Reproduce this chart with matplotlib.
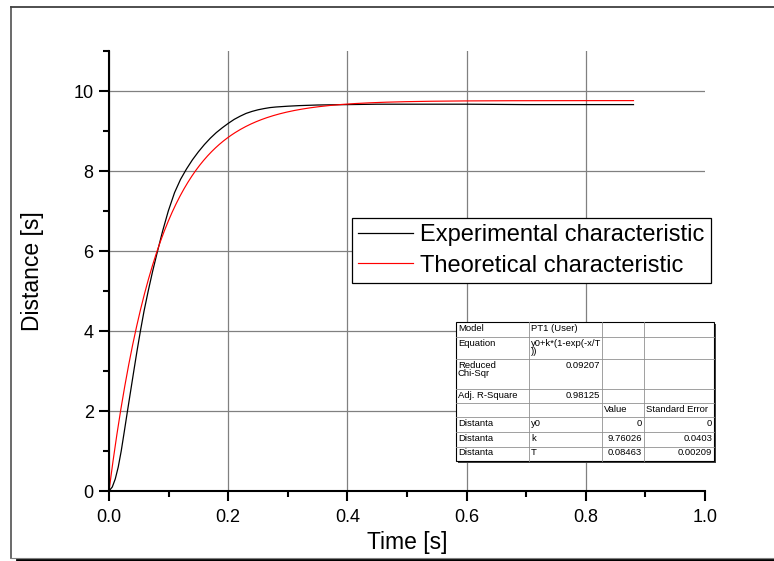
import numpy as np
import matplotlib
matplotlib.use("Agg")
import matplotlib.pyplot as plt
from matplotlib.ticker import MultipleLocator, FormatStrFormatter
from matplotlib.lines import Line2D
from matplotlib.patches import Rectangle

plt.rcParams['font.family'] = ['Liberation Sans', 'DejaVu Sans']

# measured step response
exp_time = [0.0, 0.0055, 0.0105, 0.0155, 0.0205, 0.0258, 0.031, 0.0363, 0.0416,
            0.047, 0.0527, 0.0588, 0.0658, 0.0733, 0.0815, 0.0900, 0.0995,
            0.11, 0.12, 0.13, 0.14, 0.15, 0.16, 0.17, 0.18, 0.19, 0.20,
            0.21, 0.22, 0.23, 0.24, 0.25, 0.26, 0.27, 0.28, 0.30, 0.32, 0.35,
            0.40, 0.45, 0.50, 0.60, 0.70, 0.80, 0.88]
exp_distance = [0.0, 0.1, 0.3, 0.6, 1.0, 1.5, 2.0, 2.5, 3.0,
                3.5, 4.0, 4.5, 5.0, 5.5, 6.0, 6.5, 7.0,
                7.46, 7.79, 8.05, 8.28, 8.48, 8.66, 8.82, 8.96, 9.08, 9.19,
                9.29, 9.37, 9.44, 9.49, 9.53, 9.56, 9.585, 9.60, 9.62, 9.635, 9.65,
                9.66, 9.67, 9.67, 9.67, 9.66, 9.66, 9.66]

# PT1 fit results
fit_y0 = 0.0
fit_k = 9.76026
fit_T = 0.08463
t_end = 0.88

series_labels = ["Experimental characteristic", "Theoretical characteristic"]

table_rows = [
    ["Model", "PT1 (User)", "", ""],
    ["Equation", "y0+k*(1-exp(-x/T\n))", "", ""],
    ["Reduced\nChi-Sqr", "0.09207", "", ""],
    ["Adj. R-Square", "0.98125", "", ""],
    ["", "", "Value", "Standard Error"],
    ["Distanta", "y0", "0", "0"],
    ["Distanta", "k", "9.76026", "0.0403"],
    ["Distanta", "T", "0.08463", "0.00209"],
]

W, H = 774, 561
fig = plt.figure(figsize=(W / 100, H / 100), dpi=100)

def fx(px):
    return px / W

def fy(py):
    return 1 - py / H

# page frame with drop shadow
fig.add_artist(Line2D([fx(11), fx(11)], [fy(7), fy(558)], color='#505050', lw=1.2))
fig.add_artist(Line2D([fx(11), 1.0], [fy(7), fy(7)], color='#404040', lw=1.3))
fig.add_artist(Line2D([fx(11), 1.0], [fy(558), fy(558)], color='#808080', lw=0.8))
fig.add_artist(Line2D([fx(17), 1.0], [fy(559.6), fy(559.6)], color='black', lw=2.0))

ax = fig.add_axes([fx(109), fy(491), (705 - 109) / W, (491 - 51) / H])

t_fit = np.linspace(0, t_end, 400)
d_fit = fit_y0 + fit_k * (1 - np.exp(-t_fit / fit_T))

ax.plot(exp_time, exp_distance, color='black', lw=0.9, label=series_labels[0], zorder=3)
ax.plot(t_fit, d_fit, color='red', lw=0.85, label=series_labels[1], zorder=3)

ax.set_xlim(0, 1.0)
ax.set_ylim(0, 11)
ax.xaxis.set_major_locator(MultipleLocator(0.2))
ax.xaxis.set_minor_locator(MultipleLocator(0.1))
ax.yaxis.set_major_locator(MultipleLocator(2))
ax.yaxis.set_minor_locator(MultipleLocator(1))
ax.xaxis.set_major_formatter(FormatStrFormatter('%.1f'))

for s in ['top', 'right']:
    ax.spines[s].set_visible(False)
for s in ['left', 'bottom']:
    ax.spines[s].set_linewidth(1.5)
    ax.spines[s].set_zorder(5)

ax.tick_params(which='major', direction='out', length=7, width=1.5, labelsize=13)
ax.tick_params(which='minor', direction='out', length=4, width=1.5)
ax.tick_params(axis='x', which='major', pad=6)
ax.tick_params(axis='y', which='major', pad=4)

ax.grid(True, which='major', color='#808080', lw=0.9, zorder=0)
ax.set_axisbelow(True)
fig.canvas.draw()
for gl, val in zip(ax.xaxis.get_gridlines(), ax.get_xticks()):
    if abs(val - 1.0) < 1e-9:
        gl.set_visible(False)

ax.set_xlabel("Time [s]", fontsize=16.5)
ax.set_ylabel("Distance [s]", fontsize=16.5)
ax.xaxis.set_label_coords(0.5, (491 - 543) / 440)
ax.xaxis.label.set_va('center')
ax.yaxis.set_label_coords((32 - 109) / 596, 0.5)
ax.yaxis.label.set_va('center')

leg = ax.legend(loc='upper left', bbox_to_anchor=((352 - 109) / 596, (491 - 218) / 440),
                fontsize=17.0, frameon=True, fancybox=False, framealpha=1,
                edgecolor='black', borderaxespad=0, borderpad=0.27,
                labelspacing=0.35, handlelength=2.3, handletextpad=0.3)
leg.get_frame().set_linewidth(0.9)
leg.set_zorder(6)

# fit parameter table
col_x = [456, 529, 602, 644, 714]
row_y = [322, 337, 359, 389, 403, 417, 432, 446.5, 461]
tab = fig.add_axes([0, 0, 1, 1], zorder=10)
tab.set_xlim(0, W)
tab.set_ylim(H, 0)
tab.axis('off')
tab.patch.set_visible(False)

tab.add_patch(Rectangle((col_x[0] + 1.5, row_y[0] + 1.5), col_x[-1] - col_x[0], row_y[-1] - row_y[0],
                        facecolor='#404040', edgecolor='none', zorder=1))
tab.add_patch(Rectangle((col_x[0], row_y[0]), col_x[-1] - col_x[0], row_y[-1] - row_y[0],
                        facecolor='white', edgecolor='black', lw=0.8, zorder=2))
for x in col_x[1:-1]:
    tab.plot([x, x], [row_y[0], row_y[-1]], color='#909090', lw=0.6, zorder=3)
for y in row_y[1:-1]:
    tab.plot([col_x[0], col_x[-1]], [y, y], color='#909090', lw=0.6, zorder=3)

for r, row in enumerate(table_rows):
    for c, txt in enumerate(row):
        if not txt:
            continue
        numeric = (r in (2, 3) and c == 1) or (r >= 5 and c >= 2)
        if numeric:
            xpos, ha = col_x[c + 1] - 2, 'right'
        else:
            xpos, ha = col_x[c] + 2, 'left'
        tab.text(xpos, row_y[r] + 1.8, txt, ha=ha, va='top', fontsize=6.8,
                 linespacing=0.95, zorder=4)

fig.savefig("out.png", dpi=100)
